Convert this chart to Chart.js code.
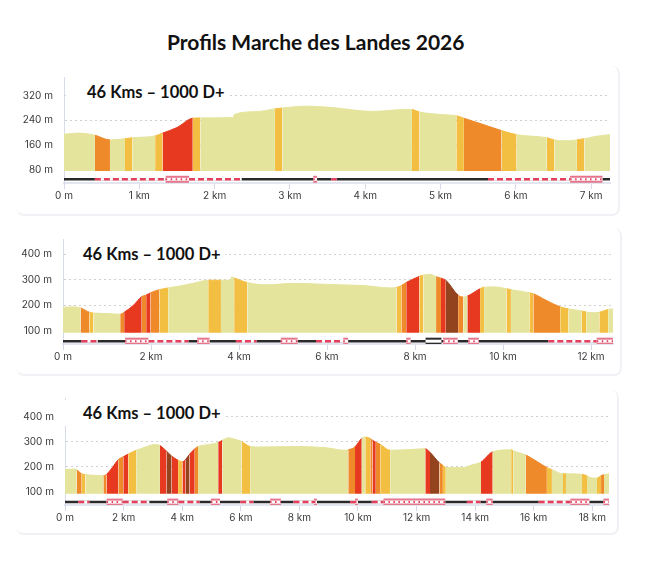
<!DOCTYPE html>
<html>
<head>
<meta charset="utf-8">
<script src="https://cdn.jsdelivr.net/npm/chart.js@4/dist/chart.umd.min.js"></script>
<style>
  body { margin: 0; background: #fff; width: 670px; height: 579px; position: relative; overflow: hidden; font-family: Lato, "Open Sans", sans-serif; }
  .title { position: absolute; left: 167px; top: 29px; font-size: 21px; font-weight: 700; color: #111; white-space: nowrap; }
  .card { position: absolute; left: 16px; border-right: 2px solid #f0f1f4; border-bottom: 2px solid #f0f1f4; border-radius: 8px; }
  .tag { position: absolute; background: #fff; font-size: 16.5px; font-weight: 700; color: #111; white-space: nowrap; padding: 3px 4px 3px 0; }
  canvas { position: absolute; left: 0; }
</style>
</head>
<body>
<div class="title">Profils Marche des Landes 2026</div>
<div class="card" style="top:66px;width:602px;height:148px"></div>
<div class="card" style="top:228px;width:604px;height:146px"></div>
<div class="card" style="top:390px;width:601px;height:143px"></div>
<canvas id="c1" width="670" height="150" style="top:60px"></canvas>
<canvas id="c2" width="670" height="150" style="top:222px"></canvas>
<canvas id="c3" width="670" height="150" style="top:381px"></canvas>
<div class="tag" style="left:66px;top:79px;padding-left:21px">46 Kms – 1000 D+</div>
<div class="tag" style="left:66px;top:241px;padding-left:17px">46 Kms – 1000 D+</div>
<div class="tag" style="left:60px;top:400px;padding-left:23px">46 Kms – 1000 D+</div>
<script>
// slope classes: 0 flat, 1 light, 2 medium, 3 steep, 4 very steep
var gradeColors = ['#e4e49c', '#f3bf43', '#ef8a2b', '#e6391f', '#94431f'];

// profile 1 (7.25 km)
var km1 = [0, 0.2, 0.41, 0.61, 0.81, 0.91, 1.21, 1.31, 1.5, 1.71, 1.81, 2.25, 2.26, 2.55, 2.8, 2.9, 3.22, 3.53, 4.1, 4.53, 4.62, 4.72, 5.0, 5.21, 5.31, 5.55, 5.81, 6.01, 6.41, 6.51, 6.65, 6.81, 6.91, 7.05, 7.25];
var ele1 = [195, 199, 192, 177, 181, 184, 190, 199, 217, 247, 248, 249, 259, 268, 277, 280, 286, 282, 269, 275, 275, 267, 259, 255, 247, 228, 207, 194, 184, 177, 174, 177, 181, 188, 194];
var grade1 = [0, 0, 2, 0, 1, 0, 1, 3, 3, 1, 0, 0, 0, 0, 1, 0, 0, 0, 0, 0, 1, 0, 0, 1, 2, 2, 1, 0, 1, 0, 0, 1, 0, 0];
var surfKm1 = [0, 0.41, 1.35, 1.66, 2.36, 3.31, 3.36, 3.55, 3.62, 5.63, 6.72, 7.15, 7.25];
var surfType1 = [0, 1, 2, 1, 0, 2, 0, 1, 0, 1, 2, 0];
var yTicks1 = [80, 160, 240, 320];
var xTicks1 = [0, 1, 2, 3, 4, 5, 6, 7];

// profile 2 (12.5 km)
var km2 = [0, 0.23, 0.4, 0.6, 0.69, 1.0, 1.3, 1.39, 1.6, 1.79, 1.89, 1.99, 2.19, 2.39, 2.7, 2.96, 3.3, 3.59, 3.81, 3.83, 3.89, 4.19, 4.63, 5.23, 6.07, 6.83, 7.43, 7.58, 7.69, 7.8, 8.1, 8.19, 8.35, 8.48, 8.59, 8.7, 8.98, 9.1, 9.19, 9.48, 9.57, 9.8, 10.08, 10.18, 10.6, 10.69, 11.0, 11.3, 11.49, 11.79, 11.89, 12.05, 12.19, 12.39, 12.5];
var ele2 = [192, 194, 190, 173, 170, 168, 165, 173, 200, 234, 240, 249, 261, 268, 277, 286, 298, 298, 298, 311, 307, 289, 280, 286, 281, 277, 268, 270, 277, 289, 313, 318, 321, 312, 306, 298, 240, 232, 236, 265, 271, 272, 265, 261, 249, 245, 218, 194, 186, 178, 174, 171, 173, 184, 186];
var grade2 = [0, 0, 2, 1, 0, 0, 2, 3, 3, 2, 3, 2, 1, 0, 0, 0, 1, 0, 0, 0, 1, 0, 0, 0, 0, 0, 0, 1, 2, 3, 1, 0, 0, 2, 3, 4, 2, 0, 3, 1, 0, 0, 1, 0, 1, 2, 2, 1, 0, 1, 0, 0, 1, 0];
var surfKm2 = [0, 0.42, 0.79, 1.41, 1.94, 2.85, 3.05, 3.33, 3.93, 4.4, 4.95, 5.33, 5.75, 6.37, 6.48, 7.8, 7.9, 8.24, 8.6, 8.64, 8.97, 9.21, 9.45, 11.03, 12.13, 12.5];
var surfType2 = [0, 1, 0, 2, 1, 0, 2, 0, 1, 0, 2, 0, 1, 2, 0, 2, 0, 3, 0, 2, 0, 2, 0, 1, 2];
var yTicks2 = [100, 200, 300, 400];
var xTicks2 = [0, 2, 4, 6, 8, 10, 12];

// profile 3 (18.57 km)
var km3 = [0, 0.34, 0.4, 0.57, 0.7, 1.0, 1.31, 1.42, 1.62, 1.82, 1.99, 2.16, 2.43, 2.8, 3.05, 3.24, 3.47, 3.64, 3.86, 4.01, 4.12, 4.25, 4.43, 4.54, 4.9, 5.23, 5.37, 5.58, 5.8, 6.03, 6.32, 6.66, 7.8, 8.93, 9.56, 9.67, 9.9, 10.13, 10.25, 10.42, 10.5, 10.61, 10.76, 11.1, 11.6, 12.3, 12.46, 12.78, 12.9, 13.0, 13.6, 13.9, 14.2, 14.6, 15.23, 15.3, 15.73, 16.1, 16.45, 16.62, 17.0, 17.1, 17.65, 17.82, 18.0, 18.16, 18.3, 18.4, 18.57];
var ele3 = [189, 191, 188, 172, 169, 166, 164, 170, 198, 229, 240, 251, 266, 281, 289, 285, 262, 243, 226, 220, 230, 250, 272, 281, 289, 297, 306, 316, 310, 301, 281, 279, 281, 276, 266, 268, 280, 314, 319, 313, 306, 298, 290, 266, 268, 272, 258, 216, 206, 197, 197, 208, 219, 260, 268, 264, 247, 222, 197, 189, 172, 172, 170, 164, 155, 155, 165, 168, 172];
var grade3 = [0, 0, 2, 1, 0, 0, 2, 3, 3, 2, 3, 1, 0, 0, 0, 3, 4, 3, 1, 3, 4, 3, 2, 0, 0, 3, 0, 0, 0, 1, 0, 0, 0, 0, 0, 2, 3, 0, 1, 2, 3, 2, 1, 0, 0, 3, 4, 2, 1, 0, 0, 0, 3, 0, 1, 0, 2, 2, 1, 0, 1, 0, 1, 0, 0, 1, 2, 0];
var surfKm3 = [0, 0.45, 0.83, 1.42, 1.97, 2.88, 3.49, 3.87, 4.59, 4.98, 5.29, 5.98, 6.43, 7.0, 7.37, 7.8, 8.5, 8.6, 9.73, 9.9, 10.0, 10.47, 10.87, 12.98, 13.72, 14.18, 14.38, 14.6, 16.17, 17.25, 17.9, 18.38, 18.57];
var surfType3 = [0, 1, 0, 2, 1, 0, 2, 1, 0, 2, 0, 1, 0, 2, 0, 1, 2, 0, 1, 2, 0, 1, 2, 0, 1, 0, 2, 0, 1, 2, 0, 2];
var yTicks3 = [100, 200, 300, 400];
var xTicks3 = [0, 2, 4, 6, 8, 10, 12, 14, 16, 18];

var NONE = 'rgba(0,0,0,0)';

// one layer of the surface strip: only the segments whose type is in colors get drawn
function stripLayer(surfKm, surfType, level, colors, width, dash, order) {
    return {
        data: surfKm.map(k => ({ x: k, y: level })),
        borderWidth: width,
        borderDash: dash,
        borderColor: NONE,
        pointRadius: 0,
        fill: false,
        tension: 0,
        segment: {
            borderColor: c => colors[surfType[c.p0DataIndex]] || NONE
        },
        order: order
    };
}

function makeProfile(id, km, ele, grade, surfKm, surfType, yTicks, xTicks, o) {
    var ctx = document.getElementById(id).getContext('2d');
    var canvasH = 150;
    return new Chart(ctx, {
        type: 'line',
        data: {
            datasets: [
                stripLayer(surfKm, surfType, o.strip, { 2: '#e2405c' }, 2, [1.5, 3.5], 1),
                stripLayer(surfKm, surfType, o.strip, { 2: '#ffffff', 3: '#ffffff' }, 3, [], 2),
                stripLayer(surfKm, surfType, o.strip, { 2: '#e5758a', 3: '#2a2a2a' }, 7, [], 3),
                stripLayer(surfKm, surfType, o.strip, { 1: '#e2405c' }, 2.5, [6, 3], 4),
                stripLayer(surfKm, surfType, o.strip, { 1: '#ffffff' }, 3, [], 5),
                stripLayer(surfKm, surfType, o.strip, { 0: '#2a2a2a', 1: '#2a2a2a', 2: '#2a2a2a', 3: '#2a2a2a' }, 2.5, [], 6),
                {
                    data: km.map((k, i) => ({ x: k, y: ele[i] })),
                    fill: { value: o.base },
                    backgroundColor: gradeColors[0],
                    borderColor: gradeColors[0],
                    borderWidth: 1,
                    pointRadius: 0,
                    cubicInterpolationMode: 'monotone',
                    segment: {
                        backgroundColor: c => gradeColors[grade[c.p0DataIndex]],
                        borderColor: c => gradeColors[grade[c.p0DataIndex]]
                    },
                    order: 10
                }
            ]
        },
        options: {
            responsive: false,
            animation: false,
            layout: { padding: { top: o.top, right: 670 - o.right, left: 0, bottom: 0 } },
            plugins: { legend: { display: false }, tooltip: { enabled: false } },
            scales: {
                x: {
                    type: 'linear',
                    min: 0,
                    max: km[km.length - 1],
                    afterBuildTicks: s => { s.ticks = xTicks.map(v => ({ value: v })); },
                    afterFit: s => { s.height = canvasH - o.bottom; },
                    grid: { drawOnChartArea: false, tickLength: 6, color: '#d3d9e6' },
                    border: { color: '#e3e6ef', width: 2 },
                    ticks: {
                        padding: 1,
                        maxRotation: 0,
                        color: '#3a3a3a',
                        font: { family: 'Inter', size: 10 },
                        callback: v => v === 0 ? '0 m' : v + ' km'
                    }
                },
                y: {
                    min: o.yMin,
                    max: o.yMax,
                    afterBuildTicks: s => { s.ticks = yTicks.map(v => ({ value: v })); },
                    afterFit: s => { s.width = o.left; },
                    grid: { drawTicks: false, color: '#d0d0d0' },
                    border: { color: '#d6dcea', width: 1, dash: [2, 3] },
                    ticks: {
                        padding: 11,
                        color: '#3a3a3a',
                        font: { family: 'Inter', size: 10 },
                        callback: v => v + ' m'
                    }
                }
            }
        }
    });
}

makeProfile('c1', km1, ele1, grade1, surfKm1, surfType1, yTicks1, xTicks1,
    { top: 9, bottom: 123, left: 64, right: 610, yMin: 38, yMax: 380, base: 77, strip: 50 });
makeProfile('c2', km2, ele2, grade2, surfKm2, surfType2, yTicks2, xTicks2,
    { top: 10, bottom: 122, left: 63, right: 613, yMin: 49, yMax: 459, base: 93, strip: 60 });
makeProfile('c3', km3, ele3, grade3, surfKm3, surfType3, yTicks3, xTicks3,
    { top: 10, bottom: 124, left: 65, right: 609, yMin: 47.5, yMax: 475, base: 92.5, strip: 59 });
</script>
</body>
</html>
